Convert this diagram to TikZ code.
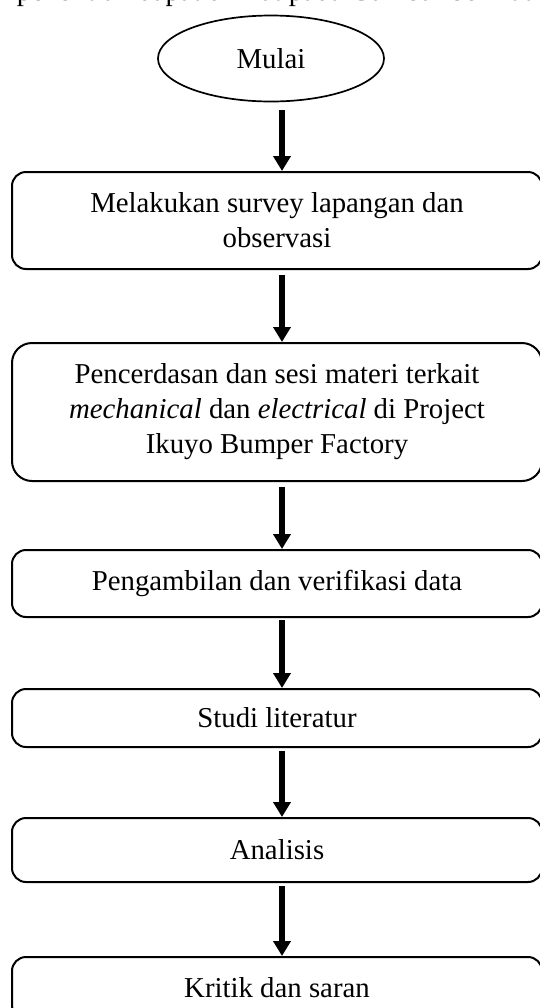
\documentclass[tikz,border=0pt]{standalone}
\usepackage{fontspec}
\setmainfont{Liberation Serif}
\usetikzlibrary{arrows.meta,shapes.geometric}
\begin{document}
\begin{tikzpicture}[x=1pt,y=1pt,
  txt/.style={font=\fontsize{14.4}{17.5}\selectfont},
  box/.style={txt, draw, line width=1pt, rounded corners=7pt, minimum width=265pt, align=center, inner sep=0pt},
  startnode/.style={txt, draw, ellipse, line width=0.85pt, minimum width=113pt, minimum height=43pt, inner sep=0pt},
  flow/.style={line width=2.9pt, -{Triangle[width=8.5pt,length=7.5pt]}},
]
\useasboundingbox (0,0) rectangle (270,-504);
\clip (0,0) rectangle (270,-504);
% partially visible caption line at the top
\node[txt, anchor=base west, inner sep=0pt] (capb) at (69,0) {dapat dilihat pada Gambar berikut};
\node[txt, anchor=base east, inner sep=0pt] (capa) at (65.4,0) {alir penelitian};
% nodes
\node[startnode] (start) at (135.5,-29.25) {Mulai};
\node[box, minimum height=48.5pt] (b1) at (138.5,-110.25) {Melakukan survey lapangan dan\\observasi};
\node[box, minimum height=69pt, rounded corners=10pt] (b2) at (138.5,-206) {Pencerdasan dan sesi materi terkait\\\textit{mechanical} dan \textit{electrical} di Project\\Ikuyo Bumper Factory};
\node[box, minimum height=33.5pt] (b3) at (138.5,-291.75) {Pengambilan dan verifikasi data};
\node[box, minimum height=29pt] (b4) at (138.5,-359) {Studi literatur};
\node[box, minimum height=32pt] (b5) at (138.5,-425) {Analisis};
\node[box, minimum height=31pt] (b6) at (138.5,-494) {Kritik dan saran};
% connectors
\draw[flow] ([xshift=5.5pt,yshift=-4pt]start.south) -- ([xshift=2.5pt]b1.north);
\draw[flow] ([xshift=2.5pt,yshift=-2.5pt]b1.south) -- ([xshift=2.5pt]b2.north);
\draw[flow] ([xshift=2.5pt,yshift=-2.5pt]b2.south) -- ([xshift=2.5pt]b3.north);
\draw[flow] ([xshift=2.5pt,yshift=-1pt]b3.south) -- ([xshift=2.5pt]b4.north);
\draw[flow] ([xshift=2.5pt,yshift=-1.5pt]b4.south) -- ([xshift=2.5pt]b5.north);
\draw[flow] ([xshift=2.5pt,yshift=-1.5pt]b5.south) -- ([xshift=2.5pt]b6.north);
\end{tikzpicture}
\end{document}
